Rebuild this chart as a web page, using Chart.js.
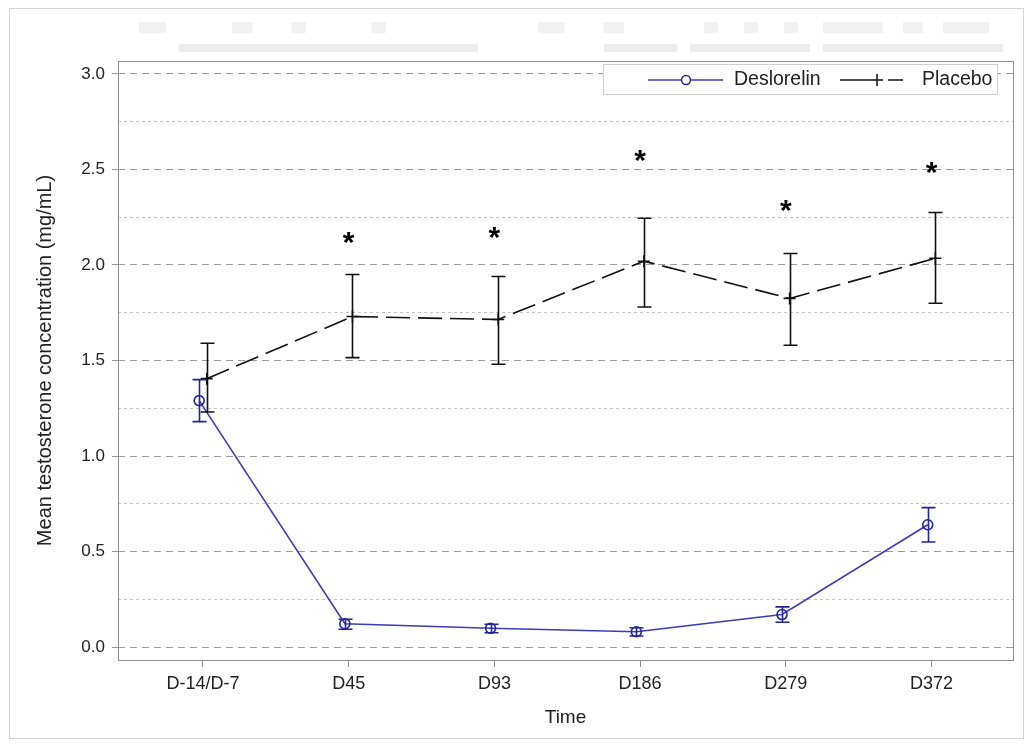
<!DOCTYPE html>
<html>
<head>
<meta charset="utf-8">
<script src="https://cdn.jsdelivr.net/npm/chart.js@4/dist/chart.umd.min.js"></script>
<style>
  html, body { margin: 0; padding: 0; background: #ffffff; }
  #wrap { width: 1036px; height: 744px; }
</style>
</head>
<body>
<div id="wrap"><canvas id="c" width="1036" height="744"></canvas></div>
<script>
// ---- data ----
const categories = ['D-14/D-7', 'D45', 'D93', 'D186', 'D279', 'D372'];
const deslorelinMean = [1.29, 0.122, 0.098, 0.08, 0.17, 0.64];
const deslorelinLow  = [1.18, 0.093, 0.075, 0.058, 0.13, 0.55];
const deslorelinHigh = [1.40, 0.145, 0.119, 0.101, 0.21, 0.73];
const placeboMean = [1.405, 1.73, 1.715, 2.02, 1.825, 2.035];
const placeboLow  = [1.23, 1.515, 1.48, 1.78, 1.58, 1.80];
const placeboHigh = [1.59, 1.95, 1.94, 2.245, 2.06, 2.275];
const starLevels  = [null, 2.14, 2.165, 2.57, 2.31, 2.51];
const seriesNames = ['Deslorelin', 'Placebo'];
const yMajorStep = 0.5;
const yMinorStep = 0.25;

const FONT = '"Liberation Sans", Arial, sans-serif';
const BLUE_LINE = '#3c3cb6';
const BLUE_MARK = '#23239a';
const BLACK = '#111111';
const GROUP_SHIFT = 0.026;

const deslorelinPts = categories.map((c, i) => ({ x: i - GROUP_SHIFT, y: deslorelinMean[i] }));
const placeboPts = categories.map((c, i) => ({ x: i + GROUP_SHIFT, y: placeboMean[i] }));

function isMajor(v) {
  return Math.abs(v / yMajorStep - Math.round(v / yMajorStep)) < 1e-6;
}

const decorPlugin = {
  id: 'decor',
  beforeDraw(chart) {
    const ctx = chart.ctx;
    ctx.save();
    ctx.fillStyle = '#ffffff';
    ctx.fillRect(0, 0, chart.width, chart.height);
    // outer border
    ctx.strokeStyle = '#d4d4d4';
    ctx.lineWidth = 1;
    ctx.strokeRect(9.5, 8.5, 1014, 730);
    // faint (illegible) header blocks
    ctx.fillStyle = 'rgba(205,205,205,0.28)';
    [[139, 27], [232, 20], [292, 14], [372, 14], [538, 26], [604, 20], [704, 14], [744, 14], [784, 14], [823, 60], [903, 20], [943, 46]]
      .forEach(r => ctx.fillRect(r[0], 22, r[1], 11));
    ctx.fillStyle = 'rgba(205,205,205,0.38)';
    [[179, 299], [604, 73], [690, 120], [823, 180]].forEach(r => ctx.fillRect(r[0], 44, r[1], 8));
    ctx.restore();
  },
  beforeDatasetsDraw(chart) {
    const a = chart.chartArea;
    const ctx = chart.ctx;
    ctx.save();
    ctx.strokeStyle = '#8e8e8e';
    ctx.lineWidth = 1;
    ctx.strokeRect(Math.round(a.left) + 0.5, Math.round(a.top) + 0.5,
                   Math.round(a.right - a.left), Math.round(a.bottom - a.top));
    ctx.restore();
  },
  afterDatasetsDraw(chart) {
    const ctx = chart.ctx;
    const xs = chart.scales.x, ys = chart.scales.y;
    const cap = 7;
    function bars(lo, hi, shift, color) {
      ctx.save();
      ctx.strokeStyle = color;
      ctx.lineWidth = 1.6;
      lo.forEach((l, i) => {
        const x = Math.round(xs.getPixelForValue(i + shift)) + 0.5;
        const y1 = ys.getPixelForValue(l);
        const y2 = ys.getPixelForValue(hi[i]);
        ctx.beginPath();
        ctx.moveTo(x, y1); ctx.lineTo(x, y2);
        ctx.moveTo(x - cap, y1); ctx.lineTo(x + cap, y1);
        ctx.moveTo(x - cap, y2); ctx.lineTo(x + cap, y2);
        ctx.stroke();
      });
      ctx.restore();
    }
    bars(placeboLow, placeboHigh, GROUP_SHIFT, BLACK);
    bars(deslorelinLow, deslorelinHigh, -GROUP_SHIFT, BLUE_MARK);

    // significance stars
    ctx.save();
    ctx.fillStyle = '#000';
    ctx.font = 'bold 30px ' + FONT;
    ctx.textAlign = 'center';
    ctx.textBaseline = 'alphabetic';
    const m = ctx.measureText('*');
    const adj = (m.actualBoundingBoxAscent - m.actualBoundingBoxDescent) / 2;
    starLevels.forEach((s, i) => {
      if (s === null) return;
      ctx.fillText('*', xs.getPixelForValue(i), ys.getPixelForValue(s) + adj);
    });
    ctx.restore();

    // legend
    ctx.save();
    ctx.fillStyle = '#ffffff';
    ctx.fillRect(603, 64, 394, 30);
    ctx.strokeStyle = '#cfcfcf';
    ctx.lineWidth = 1;
    ctx.strokeRect(603.5, 64.5, 394, 30);
    const ly = 80;
    ctx.strokeStyle = BLUE_LINE;
    ctx.lineWidth = 1.5;
    ctx.beginPath(); ctx.moveTo(648, ly); ctx.lineTo(723, ly); ctx.stroke();
    ctx.strokeStyle = BLUE_MARK;
    ctx.fillStyle = '#ffffff';
    ctx.beginPath(); ctx.arc(686, ly, 4.5, 0, Math.PI * 2); ctx.fill(); ctx.stroke();
    ctx.strokeStyle = BLACK;
    ctx.beginPath(); ctx.moveTo(840, ly); ctx.lineTo(883, ly);
    ctx.moveTo(888, ly); ctx.lineTo(903, ly);
    ctx.moveTo(877, ly - 6); ctx.lineTo(877, ly + 6);
    ctx.stroke();
    ctx.fillStyle = '#222';
    ctx.font = '19.5px ' + FONT;
    ctx.textBaseline = 'middle';
    ctx.textAlign = 'left';
    ctx.fillText(seriesNames[0], 734, ly);
    ctx.fillText(seriesNames[1], 922, ly);
    ctx.restore();
  }
};

new Chart(document.getElementById('c'), {
  type: 'scatter',
  data: {
    datasets: [
      {
        label: seriesNames[0],
        data: deslorelinPts,
        showLine: true,
        borderColor: BLUE_LINE,
        borderWidth: 1.6,
        pointStyle: 'circle',
        pointRadius: 5,
        pointBorderWidth: 1.6,
        pointBorderColor: BLUE_MARK,
        pointBackgroundColor: 'rgba(255,255,255,0)',
        order: 1
      },
      {
        label: seriesNames[1],
        data: placeboPts,
        showLine: true,
        borderColor: BLACK,
        borderWidth: 1.6,
        borderDash: [24, 8],
        pointStyle: 'cross',
        pointRadius: 6,
        pointBorderWidth: 1.6,
        pointBorderColor: BLACK,
        order: 2
      }
    ]
  },
  options: {
    responsive: false,
    animation: false,
    devicePixelRatio: 1,
    layout: { padding: { top: 61, right: 23, bottom: 0, left: 0 } },
    plugins: { legend: { display: false }, tooltip: { enabled: false }, title: { display: false } },
    scales: {
      x: {
        type: 'linear',
        min: -0.583,
        max: 5.559,
        afterFit(s) { s.height = 84; },
        afterBuildTicks(s) { s.ticks = categories.map((c, i) => ({ value: i })); },
        ticks: {
          autoSkip: false,
          maxRotation: 0,
          padding: 6,
          color: '#222',
          font: { family: FONT, size: 18 },
          callback: (v) => categories[Math.round(v)] ?? ''
        },
        grid: { drawOnChartArea: false, drawTicks: true, tickLength: 7, color: '#8e8e8e' },
        border: { display: false },
        title: {
          display: true,
          text: 'Time',
          color: '#222',
          font: { family: FONT, size: 19 },
          padding: { top: 0, bottom: 15 }
        }
      },
      y: {
        type: 'linear',
        min: -0.068,
        max: 3.068,
        afterFit(s) { s.width = 118; },
        afterBuildTicks(s) {
          const t = [];
          for (let v = 0; v <= 3.0001; v += yMinorStep) t.push({ value: Math.round(v * 100) / 100 });
          s.ticks = t;
        },
        ticks: {
          padding: 7,
          color: '#222',
          font: { family: FONT, size: 17 },
          callback: (v) => isMajor(v) ? Number(v).toFixed(1) : ''
        },
        grid: {
          drawTicks: true,
          tickLength: 6,
          lineWidth: 1,
          color: (c) => (c.tick && isMajor(c.tick.value)) ? '#9a9a9a' : '#c4c4c4',
          tickColor: (c) => (c.tick && isMajor(c.tick.value)) ? '#9a9a9a' : 'rgba(0,0,0,0)'
        },
        border: {
          display: false,
          dash: (c) => (c.tick && isMajor(c.tick.value)) ? [7, 5] : [3, 3]
        },
        title: {
          display: true,
          text: 'Mean testosterone concentration (mg/mL)',
          color: '#222',
          font: { family: FONT, size: 20 },
          padding: { top: 33, bottom: 0 }
        }
      }
    }
  },
  plugins: [decorPlugin]
});
</script>
</body>
</html>
